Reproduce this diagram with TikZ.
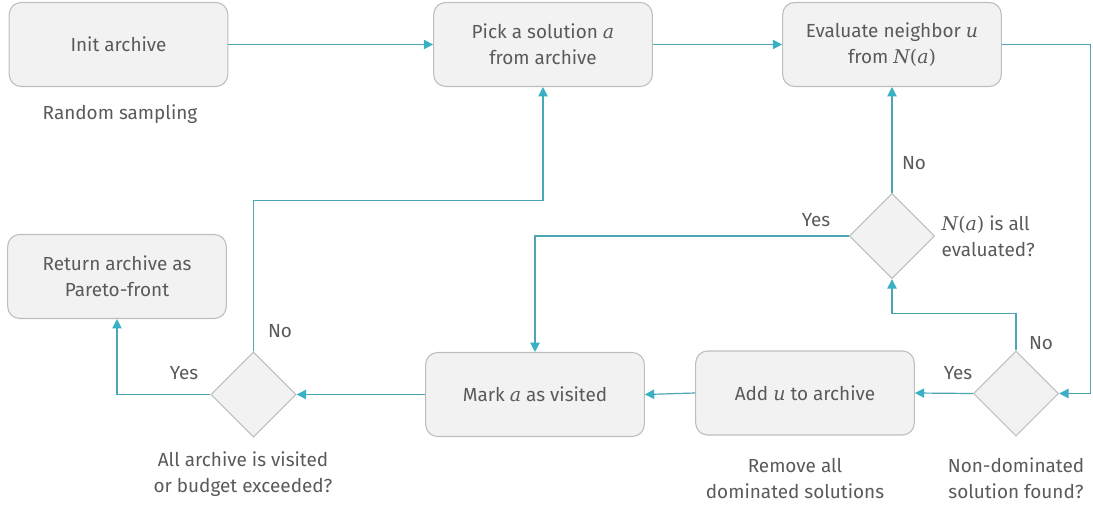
\documentclass[tikz,border=0pt]{standalone}
\usepackage{amsmath}
\usepackage{fontspec}
\setmainfont{Fira Sans}
\newfontfamily\varfont{DejaVu Serif}
\newcommand\var[1]{{\varfont\itshape #1}}
\newcommand\nbh{{\varfont\itshape N\upshape(\itshape a\upshape)}}
\usetikzlibrary{shapes.geometric,arrows.meta}
\definecolor{flowline}{RGB}{75,165,180}
\definecolor{flowtip}{RGB}{58,176,196}
\definecolor{boxfill}{RGB}{242,242,242}
\definecolor{boxline}{RGB}{190,190,190}
\definecolor{txtgray}{RGB}{90,90,90}
\tikzset{
	stepbox/.style={
		draw=boxline, fill=boxfill, rounded corners=9pt, line width=0.8pt,
		minimum width=164pt, minimum height=63pt, align=center, text=txtgray},
	decide/.style={
		draw=boxline, fill=boxfill, diamond, aspect=1, line width=0.8pt,
		minimum width=64pt, minimum height=64pt, inner sep=0pt},
	note/.style={align=center, text=txtgray},
	flow/.style={
		draw=flowline, line width=0.9pt,
		-{Triangle[length=7pt,width=7pt,color=flowtip]}}
}

\begin{document}
\begin{tikzpicture}[x=0.75pt,y=0.75pt,yscale=-1,xscale=1,
	every node/.append style={font=\fontsize{14.2}{19.5}\selectfont}]
\path[use as bounding box] (0,0) rectangle (1093,506);

% boxes
\node [stepbox] (init) at (118.5,44.5) {Init archive};
\node [stepbox] (pick) at (543,44.5) {Pick a solution \var{a}\\from archive};
\node [stepbox] (evalu) at (892,44.5) {Evaluate neighbor \var{u}\\from \nbh};
\node [stepbox] (ret) at (117,276.5) {Return archive as\\Pareto-front};
\node [stepbox] (mark) at (535,394.5) {Mark \var{a} as visited};
\node [stepbox] (add) at (805,393) {Add \var{u} to archive};

% decisions
\node [decide] (alleval) at (892,236) {};
\node [decide] (nondom) at (1016,393.5) {};
\node [decide] (budget) at (253.5,394.5) {};

% texts
\node [note] (rand) at (120,114) {Random sampling};
\node [note, align=left, anchor=west] (allevaltxt) at (937,236) {\nbh{} is all\\evaluated?};
\node [note] (nondomtxt) at (1016,478) {Non-dominated\\solution found?};
\node [note] (remove) at (795,479) {Remove all\\dominated solutions};
\node [note] (budgettxt) at (243,474) {All archive is visited\\or budget exceeded?};
\node [note] (no1) at (914,163) {No};
\node [note] (yes1) at (816,220) {Yes};
\node [note] (no2) at (1041,343) {No};
\node [note] (yes2) at (958,373) {Yes};
\node [note] (yes3) at (184,373) {Yes};
\node [note] (no3) at (280,331) {No};

% connectors
\draw [flow] (init.east) -- (pick.west);
\draw [flow] (pick.east) -- (evalu.west);
\draw [flow] (evalu.east) -- ++(89,0) |- (nondom.east);
\draw [flow] (nondom.west) -- (add.east);
\draw [flow] (nondom.north) -- ++(0,-37) -| (alleval.south);
\draw [flow] (alleval.north) -- (evalu.south);
\draw [flow] (alleval.west) -| (mark.north);
\draw [flow] (add.west) -- (mark.east);
\draw [flow] (mark.west) -- (budget.east);
\draw [flow] (budget.west) -| (ret.south);
\draw [flow] (budget.north) -- ++(0,-151) -| (pick.south);

\end{tikzpicture}
\end{document}
